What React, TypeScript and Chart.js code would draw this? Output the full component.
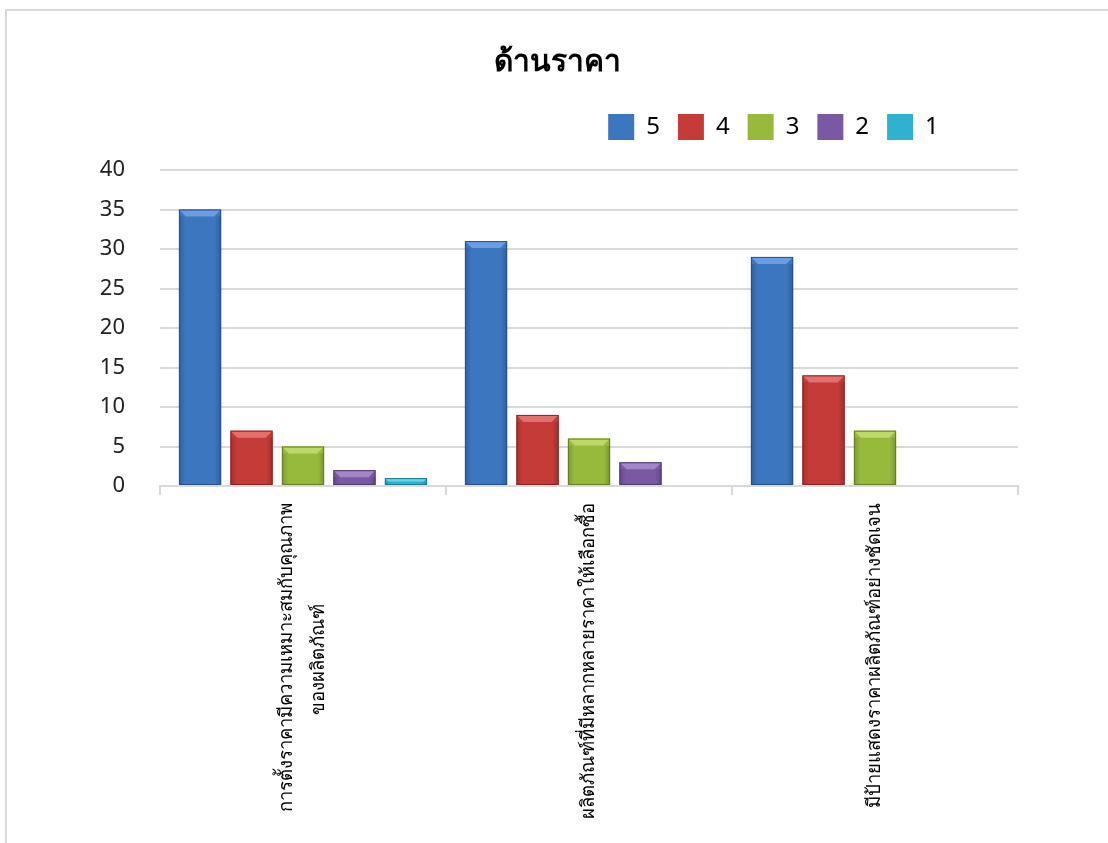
import React, { useEffect, useRef } from "react";
import { Chart, registerables } from "chart.js";

Chart.register(...registerables);

const titleText = "ด้านราคา";
const categories: (string | string[])[] = [
  ["การตั้งราคามีความเหมาะสมกับคุณภาพ", "ของผลิตภัณฑ์" + "\u00A0".repeat(21)],
  "ผลิตภัณฑ์ที่มีหลากหลายราคาให้เลือกซื้อ",
  "มีป้ายแสดงราคาผลิตภัณฑ์อย่างชัดเจน",
];
const seriesLabels = ["5", "4", "3", "2", "1"];
const level5 = [35, 31, 29];
const level4 = [7, 9, 14];
const level3 = [5, 6, 7];
const level2 = [2, 3, 0];
const level1 = [1, 0, 0];
const yTicks = [0, 5, 10, 15, 20, 25, 30, 35, 40];

const fills = ["#3b76bf", "#c53b38", "#97ba3c", "#7a58a3", "#2eb2cf"];
const edges = ["#24508a", "#8a2422", "#627d22", "#4f3870", "#17788e"];
const lights = ["#6b9de0", "#e2706c", "#bcd96a", "#a386c8", "#6bd3ea"];

const FONT = "'Noto Sans', 'DejaVu Sans', sans-serif";

const bevelPlugin = {
  id: "bevel",
  afterDatasetsDraw(chart: any) {
    const ctx = chart.ctx;
    chart.data.datasets.forEach((ds: any, di: number) => {
      const meta = chart.getDatasetMeta(di);
      meta.data.forEach((bar: any, i: number) => {
        const v = ds.data[i];
        if (!v) return;
        const { x, y, base, width } = bar.getProps(["x", "y", "base", "width"], true);
        const l = x - width / 2;
        const r = x + width / 2;
        const h = base - y;
        const b = Math.min(7, h / 2);
        ctx.save();
        ctx.fillStyle = lights[di];
        ctx.beginPath();
        ctx.moveTo(l, y);
        ctx.lineTo(r, y);
        ctx.lineTo(r - b, y + b);
        ctx.lineTo(l + b, y + b);
        ctx.closePath();
        ctx.fill();
        const g = ctx.createLinearGradient(l, 0, r, 0);
        g.addColorStop(0, "rgba(0,0,0,0.18)");
        g.addColorStop(0.15, "rgba(0,0,0,0)");
        g.addColorStop(0.85, "rgba(0,0,0,0)");
        g.addColorStop(1, "rgba(0,0,0,0.2)");
        ctx.fillStyle = g;
        ctx.fillRect(l, y + b, width, h - b);
        ctx.strokeStyle = edges[di];
        ctx.lineWidth = 1;
        ctx.strokeRect(l + 0.5, y + 0.5, width - 1, h - 1);
        ctx.restore();
      });
    });
  },
};

const placementPlugin = {
  id: "placement",
  afterLayout(chart: any) {
    const tb = chart.titleBlock;
    if (tb) {
      tb.left += 45;
      tb.right += 45;
      tb.top -= 20;
      tb.bottom -= 20;
    }
    const lg = chart.legend;
    if (lg) {
      lg.left += 261;
      lg.right += 261;
      lg.top -= 20;
      lg.bottom -= 20;
    }
  },
  beforeDraw(chart: any) {
    const xs = chart.scales.x;
    const items = xs.getLabelItems(chart.chartArea);
    if (items && items[0] && Array.isArray(items[0].label)) {
      const t = items[0].options.translation;
      items[0].options.translation = [t[0] - 16, t[1]];
    }
  },
};

export default function App() {
  const ref = useRef<HTMLCanvasElement>(null);
  useEffect(() => {
    if (!ref.current) return;
    Chart.defaults.font.family = FONT;
    const series = [level5, level4, level3, level2, level1];
    const chart = new Chart(ref.current, {
      type: "bar",
      data: {
        labels: categories,
        datasets: series.map((d, i) => ({
          label: seriesLabels[i],
          data: d,
          backgroundColor: fills[i],
          borderColor: edges[i],
          borderWidth: 0,
          categoryPercentage: 0.9,
          barPercentage: 0.82,
        })),
      },
      options: {
        animation: false,
        responsive: true,
        maintainAspectRatio: false,
        layout: { padding: { top: 53, right: 90, left: 0, bottom: 0 } },
        plugins: {
          title: {
            display: true,
            text: titleText,
            color: "#000",
            font: { size: 30, weight: "bold", family: FONT },
            padding: { top: 0, bottom: 16 },
          },
          legend: {
            display: true,
            position: "top",
            align: "center",
            labels: {
              boxWidth: 26,
              boxHeight: 26,
              padding: 18,
              color: "#000",
              font: { size: 24, family: FONT },
            },
          },
          tooltip: { enabled: false },
        },
        scales: {
          x: {
            grid: {
              display: true,
              drawOnChartArea: false,
              drawTicks: true,
              tickLength: 9,
              offset: true,
              color: "#d9d9d9",
              lineWidth: 2,
            },
            border: { display: true, color: "#d9d9d9", width: 2 },
            ticks: {
              maxRotation: 90,
              minRotation: 90,
              color: "#000",
              padding: 8,
              font: { size: 18.5, family: FONT, lineHeight: 1.72 },
            },
            afterFit: (s: any) => {
              s.height = 357;
            },
          },
          y: {
            min: 0,
            max: 40,
            afterBuildTicks: (s: any) => {
              s.ticks = yTicks.map((v) => ({ value: v }));
            },
            grid: { color: "#d9d9d9", lineWidth: 2, drawTicks: false },
            border: { display: false },
            ticks: {
              color: "#222",
              padding: 35,
              font: { size: 22, family: FONT },
            },
            afterFit: (s: any) => {
              s.width = 153;
            },
          },
        },
      },
      plugins: [bevelPlugin, placementPlugin],
    });
    return () => chart.destroy();
  }, []);
  return (
    <div
      style={{
        position: "absolute",
        left: 5,
        top: 9,
        width: 1101,
        height: 832,
        borderTop: "2px solid #d9d9d9",
        borderLeft: "2px solid #d9d9d9",
        background: "#fff",
      }}
    >
      <canvas ref={ref} />
    </div>
  );
}
